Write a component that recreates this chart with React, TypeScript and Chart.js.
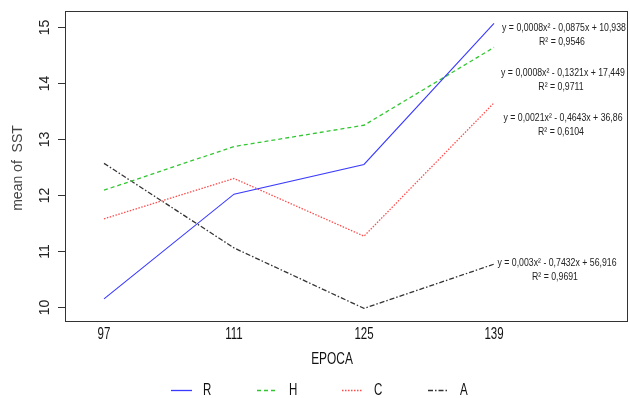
import React, { useEffect, useRef } from "react";
import { Chart, registerables } from "chart.js";

Chart.register(...registerables);

const epochs = [97, 111, 125, 139];
const seriesNames = ["R", "H", "C", "A"];
const valuesR = [10.14, 12.01, 12.54, 15.06];
const valuesH = [12.08, 12.86, 13.24, 14.63];
const valuesC = [11.57, 12.29, 11.26, 13.64];
const valuesA = [12.56, 11.05, 9.97, 10.76];
const yTicks = [10, 11, 12, 13, 14, 15];
const equations = [
  "y = 0,0008x\u00B2 - 0,0875x + 10,938",
  "y = 0,0008x\u00B2 - 0,1321x + 17,449",
  "y = 0,0021x\u00B2 - 0,4643x + 36,86",
  "y = 0,003x\u00B2 - 0,7432x + 56,916",
];
const rSquared = ["R\u00B2 = 0,9546", "R\u00B2 = 0,9711", "R\u00B2 = 0,6104", "R\u00B2 = 0,9691"];

const colors = ["#3a3aff", "#33c633", "#ff4d4d", "#333333"];
const dashes: number[][] = [[], [4, 3], [1.5, 1.5], [5, 2, 1.5, 2]];
const ARIAL = '"Liberation Sans", Arial, sans-serif';

function squeezeText(
  ctx: CanvasRenderingContext2D,
  text: string,
  x: number,
  y: number,
  sx: number,
  align: CanvasTextAlign
) {
  ctx.save();
  ctx.translate(x, y);
  ctx.scale(sx, 1);
  ctx.textAlign = align;
  ctx.fillText(text, 0, 0);
  ctx.restore();
}

export default function App() {
  const ref = useRef<HTMLCanvasElement | null>(null);
  useEffect(() => {
    document.body.style.margin = "0";
    const allValues = [valuesR, valuesH, valuesC, valuesA];
    const decor = {
      id: "decor",
      afterDraw(chart: any) {
        const ctx = chart.ctx as CanvasRenderingContext2D;
        const a = chart.chartArea;
        const xs = chart.scales.x;
        const ys = chart.scales.y;
        ctx.save();
        // frame
        ctx.strokeStyle = "#333";
        ctx.lineWidth = 1;
        ctx.setLineDash([]);
        ctx.strokeRect(
          Math.round(a.left) + 0.5,
          Math.round(a.top) + 0.5,
          Math.round(a.right - a.left) - 1,
          Math.round(a.bottom - a.top)
        );
        // y ticks
        ctx.fillStyle = "#222";
        ctx.font = `14px ${ARIAL}`;
        ctx.textAlign = "center";
        ctx.textBaseline = "middle";
        for (const t of yTicks) {
          const py = Math.round(ys.getPixelForValue(t)) + 0.5;
          ctx.beginPath();
          ctx.moveTo(a.left - 7, py);
          ctx.lineTo(a.left, py);
          ctx.stroke();
          ctx.save();
          ctx.translate(44, py);
          ctx.rotate(-Math.PI / 2);
          ctx.fillText(String(t), 0, 1);
          ctx.restore();
        }
        // y title
        ctx.save();
        ctx.fillStyle = "#444";
        ctx.translate(18, 168);
        ctx.rotate(-Math.PI / 2);
        ctx.fillText("mean of  SST", 0, 0);
        ctx.restore();
        // x ticks
        ctx.fillStyle = "#111";
        ctx.font = `16px ${ARIAL}`;
        for (const e of epochs) {
          squeezeText(ctx, String(e), xs.getPixelForValue(e), 335, 0.72, "center");
        }
        ctx.font = `17px ${ARIAL}`;
        squeezeText(ctx, "EPOCA", 332, 359, 0.7, "center");
        // legend
        const legendLineX = [171, 257, 342, 428];
        seriesNames.forEach((n, i) => {
          ctx.strokeStyle = colors[i];
          ctx.setLineDash(dashes[i]);
          ctx.lineWidth = 1.3;
          ctx.beginPath();
          ctx.moveTo(legendLineX[i], 390.5);
          ctx.lineTo(legendLineX[i] + 21, 390.5);
          ctx.stroke();
          ctx.fillStyle = "#111";
          ctx.font = `16px ${ARIAL}`;
          squeezeText(ctx, n, legendLineX[i] + 32, 391, 0.72, "left");
        });
        // equations
        ctx.setLineDash([]);
        ctx.font = `11.5px ${ARIAL}`;
        ctx.fillStyle = "#222";
        const eqY = [28, 73, 118, 263];
        const eqX = [564, 563, 563, 557];
        equations.forEach((eq, i) => {
          squeezeText(ctx, eq, eqX[i], eqY[i], 0.76, "center");
          squeezeText(ctx, rSquared[i], eqX[i] - 2, eqY[i] + 14, 0.76, "center");
        });
        ctx.restore();
      },
    };
    const chart = new Chart(ref.current as HTMLCanvasElement, {
      type: "line",
      data: {
        datasets: seriesNames.map((n, i) => ({
          label: n,
          data: epochs.map((e, j) => ({ x: e, y: allValues[i][j] })),
          borderColor: colors[i],
          borderWidth: i === 0 ? 1.1 : 1.3,
          borderDash: dashes[i],
          pointRadius: 0,
          fill: false,
          tension: 0,
        })),
      },
      options: {
        responsive: false,
        animation: false,
        layout: { padding: { left: 65, top: 11, right: 2, bottom: 77 } },
        plugins: { legend: { display: false }, tooltip: { enabled: false } },
        scales: {
          x: { type: "linear", display: false, min: 92.8, max: 153.43 },
          y: { type: "linear", display: false, min: 9.745, max: 15.28 },
        },
      },
      plugins: [decor],
    });
    return () => chart.destroy();
  }, []);
  return (
    <div style={{ position: "fixed", left: 0, top: 0, width: 630, height: 398 }}>
      <canvas ref={ref} width={630} height={398} />
    </div>
  );
}
